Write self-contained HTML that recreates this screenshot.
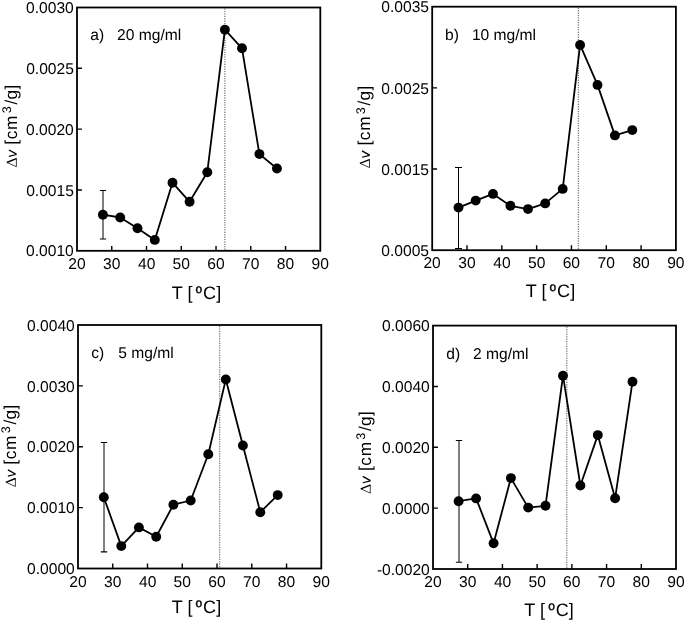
<!DOCTYPE html>
<html><head><meta charset="utf-8"><style>
html,body{margin:0;padding:0;background:#fff;}
svg{display:block;will-change:transform;}
text{font-family:"Liberation Sans", sans-serif;fill:#000;text-rendering:geometricPrecision;}
</style></head><body>
<svg width="685" height="621" viewBox="0 0 685 621">
<rect width="685" height="621" fill="#fff"/>
<line x1="224.9" y1="8.5" x2="224.9" y2="249.8" stroke="#7a7a7a" stroke-width="1.3" stroke-dasharray="1.2 1.2"/>
<path d="M103 190.5V239" stroke="#000" stroke-width="1" fill="none"/>
<path d="M99.9 190.5H106.1M99.9 239H106.1" stroke="#000" stroke-width="1.1" fill="none"/>
<path d="M102.9 214.7 L120.2 217.5 L137.5 228.2 L154.8 239.9 L172.5 182.7 L189.6 201.8 L207.3 172.2 L224.9 29.7 L242 48.3 L259.4 154.1 L276.95 168.5" stroke="#000" stroke-width="1.8" fill="none" stroke-linejoin="round"/>
<circle cx="102.9" cy="214.7" r="4.95"/>
<circle cx="120.2" cy="217.5" r="4.95"/>
<circle cx="137.5" cy="228.2" r="4.95"/>
<circle cx="154.8" cy="239.9" r="4.95"/>
<circle cx="172.5" cy="182.7" r="4.95"/>
<circle cx="189.6" cy="201.8" r="4.95"/>
<circle cx="207.3" cy="172.2" r="4.95"/>
<circle cx="224.9" cy="29.7" r="4.95"/>
<circle cx="242" cy="48.3" r="4.95"/>
<circle cx="259.4" cy="154.1" r="4.95"/>
<circle cx="276.95" cy="168.5" r="4.95"/>
<path d="M77 189.98h4.9M77 129.15h4.9M77 68.32h4.9M111.76 250.8v-4.9M146.51 250.8v-4.9M181.27 250.8v-4.9M216.03 250.8v-4.9M250.79 250.8v-4.9M285.54 250.8v-4.9" stroke="#000" stroke-width="1.4" fill="none"/>
<rect x="77" y="7.5" width="243.3" height="243.3" fill="none" stroke="#000" stroke-width="1.8"/>
<text x="26.1" y="256.47" font-size="15.6">0.0010</text>
<text x="26.14" y="195.65" font-size="15.6">0.0015</text>
<text x="26.1" y="134.82" font-size="15.6">0.0020</text>
<text x="26.14" y="74" font-size="15.6">0.0025</text>
<text x="26.1" y="13.17" font-size="15.6">0.0030</text>
<text x="68.24" y="269.04" font-size="15.6">20</text>
<text x="103.09" y="269.04" font-size="15.6">30</text>
<text x="137.96" y="269.04" font-size="15.6">40</text>
<text x="172.59" y="269.04" font-size="15.6">50</text>
<text x="207.26" y="269.04" font-size="15.6">60</text>
<text x="242.01" y="269.04" font-size="15.6">70</text>
<text x="276.83" y="269.04" font-size="15.6">80</text>
<text x="311.56" y="269.04" font-size="15.6">90</text>
<text x="171.75" y="298.6" font-size="18.0">T</text>
<text x="187.42" y="298.6" font-size="18.0">[</text>
<text stroke="#000" stroke-width="0.4" x="195.6" y="293.15" font-size="12">o</text>
<text x="203.09" y="298.6" font-size="18.0">C</text>
<text x="216.16" y="298.6" font-size="18.0">]</text>
<path d="M6.8 162.5L16.4 158.7" stroke="#000" stroke-width="1.35" stroke-linecap="butt" fill="none"/>
<path d="M7.1 162.5L16.4 166.7L16.4 158.2" stroke="#000" stroke-width="0.75" fill="none" stroke-linejoin="miter"/>
<path d="M8.9 150L16.5 154.2" stroke="#000" stroke-width="1.35" fill="none"/>
<path d="M8.9 156.35L16.5 154.5" stroke="#000" stroke-width="1.15" fill="none"/>
<text transform="translate(17 143.5) rotate(-90)" x="-1.23" y="0" font-size="17.2">[</text>
<text transform="translate(17 138.6) rotate(-90)" x="-0.73" y="0" font-size="17.2">c</text>
<text transform="translate(17 128.8) rotate(-90)" x="-1.14" y="0" font-size="17.2">m</text>
<text transform="translate(11.3 112.8) rotate(-90)" x="-0.48" y="0" font-size="12.5">3</text>
<text transform="translate(17 104.6) rotate(-90)" x="-0" y="0" font-size="17.2">/</text>
<text transform="translate(17 98.9) rotate(-90)" x="-0.72" y="0" font-size="17.2">g</text>
<text transform="translate(17 89.4) rotate(-90)" x="-0.13" y="0" font-size="17.2">]</text>
<text x="90.24" y="40.4" font-size="15.6">a)</text>
<text x="117.12" y="40.4" font-size="15.6">20 mg/ml</text>
<line x1="578.4" y1="7.7" x2="578.4" y2="249.2" stroke="#7a7a7a" stroke-width="1.3" stroke-dasharray="1.2 1.2"/>
<path d="M458.5 167.5V248.5" stroke="#000" stroke-width="1" fill="none"/>
<path d="M455 167.5H462M455 248.5H462" stroke="#000" stroke-width="1.1" fill="none"/>
<path d="M458.5 207.6 L475.7 200.6 L493 193.9 L510.4 205.8 L528 209.1 L545.2 203.4 L562.7 188.9 L580.1 44.9 L597.5 84.9 L614.9 135.4 L632.3 130.1" stroke="#000" stroke-width="1.8" fill="none" stroke-linejoin="round"/>
<circle cx="458.5" cy="207.6" r="4.95"/>
<circle cx="475.7" cy="200.6" r="4.95"/>
<circle cx="493" cy="193.9" r="4.95"/>
<circle cx="510.4" cy="205.8" r="4.95"/>
<circle cx="528" cy="209.1" r="4.95"/>
<circle cx="545.2" cy="203.4" r="4.95"/>
<circle cx="562.7" cy="188.9" r="4.95"/>
<circle cx="580.1" cy="44.9" r="4.95"/>
<circle cx="597.5" cy="84.9" r="4.95"/>
<circle cx="614.9" cy="135.4" r="4.95"/>
<circle cx="632.3" cy="130.1" r="4.95"/>
<path d="M432.2 169.03h4.9M432.2 87.87h4.9M467.01 250.2v-4.9M501.83 250.2v-4.9M536.64 250.2v-4.9M571.46 250.2v-4.9M606.27 250.2v-4.9M641.09 250.2v-4.9" stroke="#000" stroke-width="1.4" fill="none"/>
<rect x="432.2" y="6.7" width="243.7" height="243.5" fill="none" stroke="#000" stroke-width="1.8"/>
<text x="381.34" y="255.87" font-size="15.6">0.0005</text>
<text x="381.34" y="174.7" font-size="15.6">0.0015</text>
<text x="381.34" y="93.54" font-size="15.6">0.0025</text>
<text x="381.34" y="12.37" font-size="15.6">0.0035</text>
<text x="423.44" y="268.44" font-size="15.6">20</text>
<text x="458.35" y="268.44" font-size="15.6">30</text>
<text x="493.28" y="268.44" font-size="15.6">40</text>
<text x="527.96" y="268.44" font-size="15.6">50</text>
<text x="562.69" y="268.44" font-size="15.6">60</text>
<text x="597.5" y="268.44" font-size="15.6">70</text>
<text x="632.38" y="268.44" font-size="15.6">80</text>
<text x="667.16" y="268.44" font-size="15.6">90</text>
<text x="525.75" y="296.6" font-size="18.0">T</text>
<text x="541.42" y="296.6" font-size="18.0">[</text>
<text stroke="#000" stroke-width="0.4" x="549.6" y="291.15" font-size="12">o</text>
<text x="557.09" y="296.6" font-size="18.0">C</text>
<text x="570.16" y="296.6" font-size="18.0">]</text>
<path d="M359.9 163.4L369.5 159.6" stroke="#000" stroke-width="1.35" stroke-linecap="butt" fill="none"/>
<path d="M360.2 163.4L369.5 167.6L369.5 159.1" stroke="#000" stroke-width="0.75" fill="none" stroke-linejoin="miter"/>
<path d="M362 150.9L369.6 155.1" stroke="#000" stroke-width="1.35" fill="none"/>
<path d="M362 157.25L369.6 155.4" stroke="#000" stroke-width="1.15" fill="none"/>
<text transform="translate(370.4 144.4) rotate(-90)" x="-1.23" y="0" font-size="17.2">[</text>
<text transform="translate(370.4 139.5) rotate(-90)" x="-0.73" y="0" font-size="17.2">c</text>
<text transform="translate(370.4 129.7) rotate(-90)" x="-1.14" y="0" font-size="17.2">m</text>
<text transform="translate(364.7 113.7) rotate(-90)" x="-0.48" y="0" font-size="12.5">3</text>
<text transform="translate(370.4 105.5) rotate(-90)" x="-0" y="0" font-size="17.2">/</text>
<text transform="translate(370.4 99.8) rotate(-90)" x="-0.72" y="0" font-size="17.2">g</text>
<text transform="translate(370.4 90.3) rotate(-90)" x="-0.13" y="0" font-size="17.2">]</text>
<text x="445.09" y="39.6" font-size="15.6">b)</text>
<text x="471.91" y="39.6" font-size="15.6">10 mg/ml</text>
<line x1="219.6" y1="326" x2="219.6" y2="567.5" stroke="#7a7a7a" stroke-width="1.3" stroke-dasharray="1.2 1.2"/>
<path d="M104 442.5V551.9" stroke="#000" stroke-width="1" fill="none"/>
<path d="M100.85 442.5H107.15M100.85 551.9H107.15" stroke="#000" stroke-width="1.1" fill="none"/>
<path d="M103.8 497.3 L121.3 546.1 L138.9 527.4 L156.2 536.8 L173.4 504.7 L190.7 500.5 L208.3 454.3 L225.8 379.4 L242.9 445.5 L260.3 512.2 L277.7 495.1" stroke="#000" stroke-width="1.8" fill="none" stroke-linejoin="round"/>
<circle cx="103.8" cy="497.3" r="4.95"/>
<circle cx="121.3" cy="546.1" r="4.95"/>
<circle cx="138.9" cy="527.4" r="4.95"/>
<circle cx="156.2" cy="536.8" r="4.95"/>
<circle cx="173.4" cy="504.7" r="4.95"/>
<circle cx="190.7" cy="500.5" r="4.95"/>
<circle cx="208.3" cy="454.3" r="4.95"/>
<circle cx="225.8" cy="379.4" r="4.95"/>
<circle cx="242.9" cy="445.5" r="4.95"/>
<circle cx="260.3" cy="512.2" r="4.95"/>
<circle cx="277.7" cy="495.1" r="4.95"/>
<path d="M78 507.62h4.9M78 446.75h4.9M78 385.88h4.9M112.76 568.5v-4.9M147.51 568.5v-4.9M182.27 568.5v-4.9M217.03 568.5v-4.9M251.79 568.5v-4.9M286.54 568.5v-4.9" stroke="#000" stroke-width="1.4" fill="none"/>
<rect x="78" y="325" width="243.3" height="243.5" fill="none" stroke="#000" stroke-width="1.8"/>
<text x="27.1" y="574.17" font-size="15.6">0.0000</text>
<text x="27.1" y="513.3" font-size="15.6">0.0010</text>
<text x="27.1" y="452.42" font-size="15.6">0.0020</text>
<text x="27.1" y="391.55" font-size="15.6">0.0030</text>
<text x="27.1" y="330.67" font-size="15.6">0.0040</text>
<text x="69.24" y="586.74" font-size="15.6">20</text>
<text x="104.09" y="586.74" font-size="15.6">30</text>
<text x="138.96" y="586.74" font-size="15.6">40</text>
<text x="173.59" y="586.74" font-size="15.6">50</text>
<text x="208.26" y="586.74" font-size="15.6">60</text>
<text x="243.01" y="586.74" font-size="15.6">70</text>
<text x="277.83" y="586.74" font-size="15.6">80</text>
<text x="312.56" y="586.74" font-size="15.6">90</text>
<text x="171.75" y="612.8" font-size="18.0">T</text>
<text x="187.42" y="612.8" font-size="18.0">[</text>
<text stroke="#000" stroke-width="0.4" x="195.6" y="607.35" font-size="12">o</text>
<text x="203.09" y="612.8" font-size="18.0">C</text>
<text x="216.16" y="612.8" font-size="18.0">]</text>
<path d="M5.8 482.3L15.4 478.5" stroke="#000" stroke-width="1.35" stroke-linecap="butt" fill="none"/>
<path d="M6.1 482.3L15.4 486.5L15.4 478" stroke="#000" stroke-width="0.75" fill="none" stroke-linejoin="miter"/>
<path d="M7.9 469.8L15.5 474" stroke="#000" stroke-width="1.35" fill="none"/>
<path d="M7.9 476.15L15.5 474.3" stroke="#000" stroke-width="1.15" fill="none"/>
<text transform="translate(16 463.5) rotate(-90)" x="-1.23" y="0" font-size="17.2">[</text>
<text transform="translate(16 458.6) rotate(-90)" x="-0.73" y="0" font-size="17.2">c</text>
<text transform="translate(16 448.8) rotate(-90)" x="-1.14" y="0" font-size="17.2">m</text>
<text transform="translate(10.3 432.8) rotate(-90)" x="-0.48" y="0" font-size="12.5">3</text>
<text transform="translate(16 424.6) rotate(-90)" x="-0" y="0" font-size="17.2">/</text>
<text transform="translate(16 418.9) rotate(-90)" x="-0.72" y="0" font-size="17.2">g</text>
<text transform="translate(16 409.4) rotate(-90)" x="-0.13" y="0" font-size="17.2">]</text>
<text x="91.24" y="357.9" font-size="15.6">c)</text>
<text x="118.28" y="357.9" font-size="15.6">5 mg/ml</text>
<line x1="566.8" y1="326.6" x2="566.8" y2="568" stroke="#7a7a7a" stroke-width="1.3" stroke-dasharray="1.2 1.2"/>
<path d="M459 440.5V562.2" stroke="#000" stroke-width="1" fill="none"/>
<path d="M455.85 440.5H462.15M455.85 562.2H462.15" stroke="#000" stroke-width="1.1" fill="none"/>
<path d="M458.6 501.2 L476.1 498.4 L493.6 543.3 L510.9 478.1 L528.2 507.6 L545.5 505.8 L563 375.7 L580.4 485.5 L597.8 435.1 L615.1 498.3 L632.5 381.7" stroke="#000" stroke-width="1.8" fill="none" stroke-linejoin="round"/>
<circle cx="458.6" cy="501.2" r="4.95"/>
<circle cx="476.1" cy="498.4" r="4.95"/>
<circle cx="493.6" cy="543.3" r="4.95"/>
<circle cx="510.9" cy="478.1" r="4.95"/>
<circle cx="528.2" cy="507.6" r="4.95"/>
<circle cx="545.5" cy="505.8" r="4.95"/>
<circle cx="563" cy="375.7" r="4.95"/>
<circle cx="580.4" cy="485.5" r="4.95"/>
<circle cx="597.8" cy="435.1" r="4.95"/>
<circle cx="615.1" cy="498.3" r="4.95"/>
<circle cx="632.5" cy="381.7" r="4.95"/>
<path d="M433 508.15h4.9M433 447.3h4.9M433 386.45h4.9M467.71 569v-4.9M502.43 569v-4.9M537.14 569v-4.9M571.86 569v-4.9M606.57 569v-4.9M641.29 569v-4.9" stroke="#000" stroke-width="1.4" fill="none"/>
<rect x="433" y="325.6" width="243" height="243.4" fill="none" stroke="#000" stroke-width="1.8"/>
<text x="376.9" y="574.67" font-size="15.6">-0.0020</text>
<text x="382.1" y="513.82" font-size="15.6">0.0000</text>
<text x="382.1" y="452.97" font-size="15.6">0.0020</text>
<text x="382.1" y="392.12" font-size="15.6">0.0040</text>
<text x="382.1" y="331.27" font-size="15.6">0.0060</text>
<text x="424.24" y="587.24" font-size="15.6">20</text>
<text x="459.05" y="587.24" font-size="15.6">30</text>
<text x="493.88" y="587.24" font-size="15.6">40</text>
<text x="528.46" y="587.24" font-size="15.6">50</text>
<text x="563.09" y="587.24" font-size="15.6">60</text>
<text x="597.8" y="587.24" font-size="15.6">70</text>
<text x="632.58" y="587.24" font-size="15.6">80</text>
<text x="667.26" y="587.24" font-size="15.6">90</text>
<text x="524.35" y="615.9" font-size="18.0">T</text>
<text x="540.02" y="615.9" font-size="18.0">[</text>
<text stroke="#000" stroke-width="0.4" x="548.2" y="610.45" font-size="12">o</text>
<text x="555.69" y="615.9" font-size="18.0">C</text>
<text x="568.76" y="615.9" font-size="18.0">]</text>
<path d="M360.7 488.9L370.3 485.1" stroke="#000" stroke-width="1.35" stroke-linecap="butt" fill="none"/>
<path d="M361 488.9L370.3 493.1L370.3 484.6" stroke="#000" stroke-width="0.75" fill="none" stroke-linejoin="miter"/>
<path d="M362.8 476.4L370.4 480.6" stroke="#000" stroke-width="1.35" fill="none"/>
<path d="M362.8 482.75L370.4 480.9" stroke="#000" stroke-width="1.15" fill="none"/>
<text transform="translate(370.8 469.9) rotate(-90)" x="-1.23" y="0" font-size="17.2">[</text>
<text transform="translate(370.8 465) rotate(-90)" x="-0.73" y="0" font-size="17.2">c</text>
<text transform="translate(370.8 455.2) rotate(-90)" x="-1.14" y="0" font-size="17.2">m</text>
<text transform="translate(365.1 439.2) rotate(-90)" x="-0.48" y="0" font-size="12.5">3</text>
<text transform="translate(370.8 431) rotate(-90)" x="-0" y="0" font-size="17.2">/</text>
<text transform="translate(370.8 425.3) rotate(-90)" x="-0.72" y="0" font-size="17.2">g</text>
<text transform="translate(370.8 415.8) rotate(-90)" x="-0.13" y="0" font-size="17.2">]</text>
<text x="446.24" y="358.5" font-size="15.6">d)</text>
<text x="473.12" y="358.5" font-size="15.6">2 mg/ml</text>
</svg>
</body></html>
